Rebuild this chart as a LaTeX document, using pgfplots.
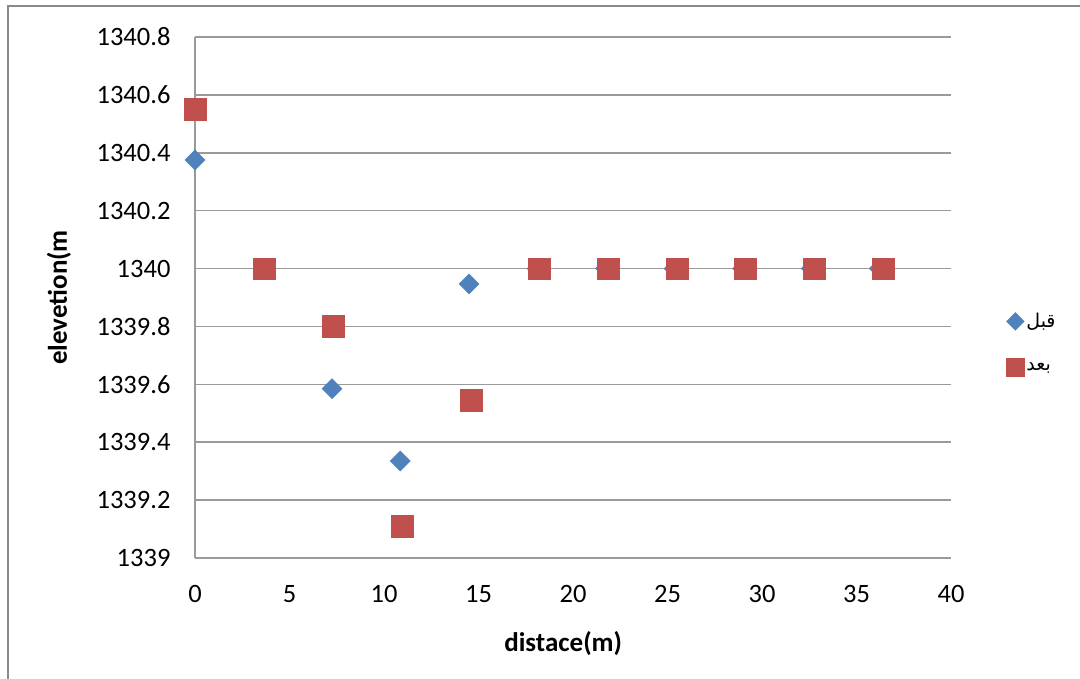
\documentclass[border=0pt]{standalone}
\usepackage{pgfplots}
\pgfplotsset{compat=1.18}
\usepackage{fontspec}
\setmainfont{Carlito}
\newfontfamily\arabicfont[Script=Arabic]{DejaVu Sans}
\TeXXeTstate=1
\definecolor{sblue}{HTML}{4F81BD}
\definecolor{sred}{HTML}{C0504D}
\definecolor{gridgray}{HTML}{9A9A9A}
\definecolor{framegray}{HTML}{8A8A8A}

\begin{document}
\begin{tikzpicture}
\useasboundingbox (0pt,0pt) rectangle (1080pt,-679pt);
% chart frame
\draw[framegray, line width=2.5pt] (8pt,-679pt) -- (8pt,-6pt) -- (1080pt,-6pt);
\begin{axis}[
  at={(195pt,-558pt)}, anchor=south west,
  scale only axis, width=756pt, height=521pt,
  xmin=0, xmax=40, ymin=1339, ymax=1340.8,
  xtick={0,5,10,15,20,25,30,35,40},
  ytick={1339,1339.2,1339.4,1339.6,1339.8,1340,1340.2,1340.4,1340.6,1340.8},
  scaled y ticks=false,
  /pgf/number format/.cd, fixed, precision=1, 1000 sep={}, assume math mode=true,
  /pgfplots/.cd,
  axis x line*=bottom, axis y line*=left,
  axis line style={gridgray, line width=1.5pt, -},
  major tick length=0pt,
  ymajorgrids,
  major grid style={gridgray, line width=1.5pt},
  tick label style={font=\fontsize{26.5}{30}\selectfont, text=black},
  yticklabel style={xshift=-21pt},
  xticklabel style={yshift=-24pt},
  xlabel={distace(m)}, ylabel={elevetion(m},
  every axis y label/.style={at={(rel axis cs:-0.180,0.5)}, rotate=90, anchor=center,
    font=\fontsize{27}{31}\selectfont\bfseries},
  every axis x label/.style={at={(rel axis cs:0.487,-0.164)}, anchor=center,
    font=\fontsize{27}{31}\selectfont\bfseries},
  legend style={at={(rel axis cs:1.069,0.411)}, anchor=west, draw=none, fill=none,
    font=\fontsize{19}{22}\selectfont, row sep=27pt},
  legend cell align=left,
  clip=false,
]
\addplot[only marks, mark=square*, mark size=7.1pt,
  mark options={rotate=45, fill=sblue, draw=sblue},
  legend image post style={mark size=6.3pt}]
  coordinates {
  (0,1340.375) (3.62,1340) (7.25,1339.585) (10.86,1339.335) (14.5,1339.947)
  (18.1,1340) (21.72,1340) (25.35,1340) (28.97,1340) (32.6,1340) (36.2,1340)
  };
\addlegendentry{\arabicfont\beginR قبل\endR}
\addplot[only marks, mark=square*, mark size=10.8pt,
  mark options={fill=sred, draw=sred},
  legend image post style={mark size=9pt}]
  coordinates {
  (0,1340.55) (3.65,1340) (7.3,1339.8) (10.95,1339.11) (14.6,1339.546)
  (18.22,1340) (21.86,1340) (25.5,1340) (29.12,1340) (32.76,1340) (36.4,1340)
  };
\addlegendentry{\arabicfont\beginR بعد\endR}
\end{axis}
\end{tikzpicture}
\end{document}
